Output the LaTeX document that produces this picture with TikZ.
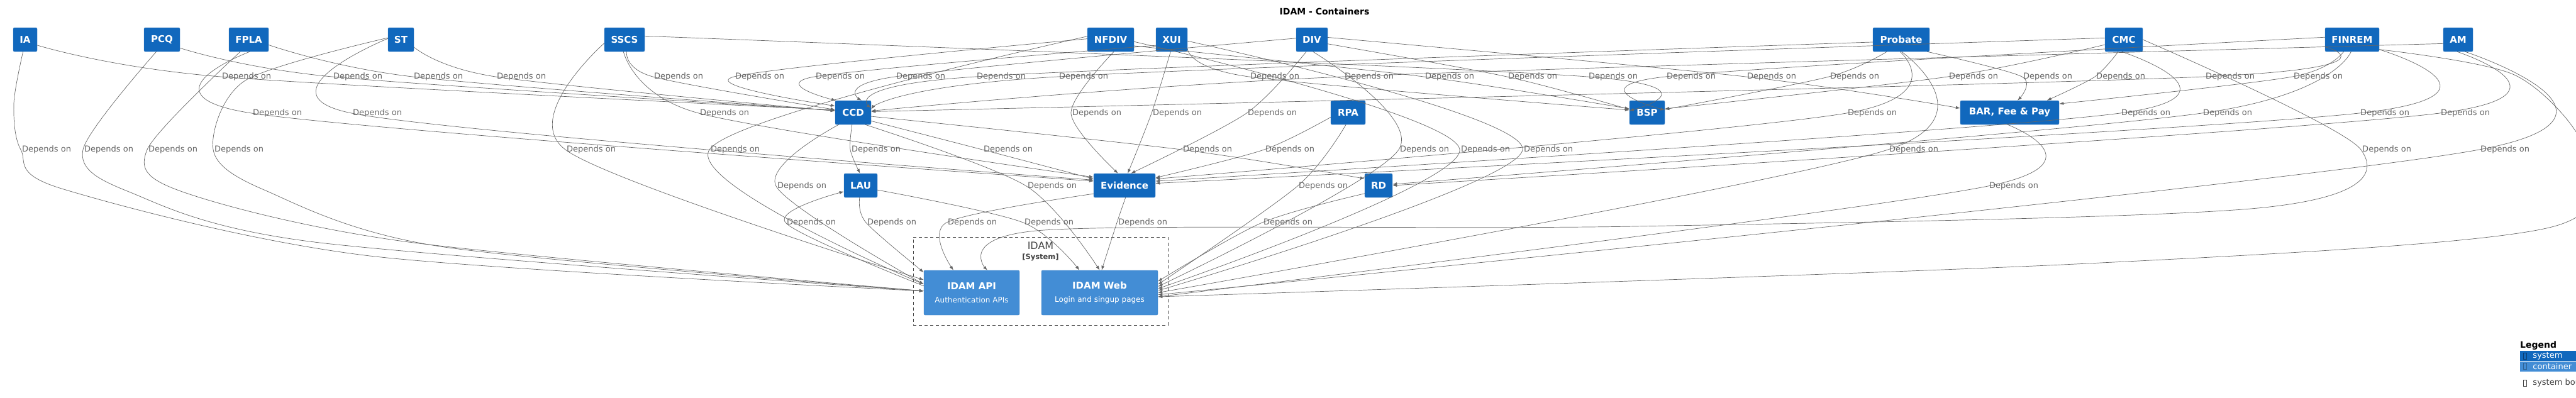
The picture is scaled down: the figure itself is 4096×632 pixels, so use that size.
\documentclass[tikz,border=0pt]{standalone}
\usepackage{fontspec}
\setmainfont{DejaVu Sans}
\usetikzlibrary{arrows.meta,positioning}

\definecolor{sysblue}{HTML}{1168BD}
\definecolor{contblue}{HTML}{438DD5}
\definecolor{c4line}{HTML}{3C7FC0}
\definecolor{depgray}{HTML}{666666}
\definecolor{bndgray}{HTML}{444444}

\begin{document}
\begin{tikzpicture}[
    x=1pt, y=-1pt,
    sys/.style={draw=c4line, fill=sysblue, rounded corners=2pt, text=white,
                font=\fontsize{15}{18}\selectfont\bfseries, minimum height=38pt, inner sep=0pt},
    cont/.style={draw=c4line, fill=contblue, rounded corners=2pt, text=white, align=center,
                 minimum height=71pt, inner sep=0pt},
    dep/.style={font=\fontsize{13}{15}\selectfont, text=depgray, anchor=west, inner sep=2pt},
    arr/.style={draw=depgray, line width=0.7pt, -{Latex[length=7pt,width=5pt]}},
    legrow/.style={anchor=north west, minimum width=100pt, minimum height=16pt, inner sep=0pt},
    legtxt/.style={anchor=west, inner sep=0pt, font=\fontsize{13}{15}\selectfont},
    tofu/.style={draw, line width=0.5pt, minimum width=5pt, minimum height=10pt, inner sep=0pt}
]
\useasboundingbox (0,0) rectangle (4096,632);

\node[font=\fontsize{14}{17}\selectfont\bfseries] (title) at (2106,18) {IDAM - Containers};

% systems, top row
\node[sys, minimum width=38pt] (IA) at (40,63) {IA};
\node[sys, minimum width=57pt] (PCQ) at (257.5,63) {PCQ};
\node[sys, minimum width=63pt] (FPLA) at (395.5,63) {FPLA};
\node[sys, minimum width=41pt] (ST) at (637.5,63) {ST};
\node[sys, minimum width=64pt] (SSCS) at (993,63) {SSCS};
\node[sys, minimum width=74pt] (NFDIV) at (1766,63) {NFDIV};
\node[sys, minimum width=50pt] (XUI) at (1863,63) {XUI};
\node[sys, minimum width=50pt] (DIV) at (2086,63) {DIV};
\node[sys, minimum width=90pt] (Probate) at (3023,63) {Probate};
\node[sys, minimum width=60pt] (CMC) at (3377,63) {CMC};
\node[sys, minimum width=86pt] (FINREM) at (3740,63) {FINREM};
\node[sys, minimum width=47pt] (AM) at (3908.5,63) {AM};

% systems, middle rows
\node[sys, minimum width=57pt] (CCD) at (1356.5,179) {CCD};
\node[sys, minimum width=55pt] (RPA) at (2143.5,179) {RPA};
\node[sys, minimum width=56pt] (BSP) at (2619,179) {BSP};
\node[sys, minimum width=157pt] (BAR) at (3195.5,179) {BAR, Fee \& Pay};
\node[sys, minimum width=53pt] (LAU) at (1368.5,295) {LAU};
\node[sys, minimum width=98pt] (Evidence) at (1788,295) {Evidence};
\node[sys, minimum width=44pt] (RD) at (2192,295) {RD};

% IDAM boundary and containers
\node[draw=bndgray, line width=0.8pt, dash pattern=on 5pt off 4pt, minimum width=405pt,
      minimum height=140pt, inner sep=0pt] (idam) at (1654.5,447) {};
\node[text=bndgray, font=\fontsize{16}{18}\selectfont, below=5pt of idam.north] (idamname) {IDAM};
\node[text=bndgray, font=\fontsize{11.5}{13}\selectfont\bfseries, below=0pt of idamname] (idamtype) {[System]};
\node[cont, minimum width=152pt] (API) at (1545,465.5)
  {{\fontsize{15}{18}\selectfont\bfseries IDAM API}\\[9pt]{\fontsize{12}{14}\selectfont Authentication APIs}};
\node[cont, minimum width=185pt] (Web) at (1748.5,465.5)
  {{\fontsize{15}{18}\selectfont\bfseries IDAM Web}\\[9pt]{\fontsize{12}{14}\selectfont Login and singup pages}};

% top row -> CCD, BSP, BAR
\node[dep] (l1a) at (351,122) {Depends on};
\draw[arr] plot[smooth] coordinates {(IA.-25) (l1a.west) (CCD.172)};
\node[dep] (l1b) at (528,122) {Depends on};
\draw[arr] plot[smooth] coordinates {(PCQ.-25) (l1b.west) (CCD.173)};
\node[dep] (l1c) at (656,122) {Depends on};
\draw[arr] plot[smooth] coordinates {(FPLA.-15) (l1c.west) (CCD.174)};
\node[dep] (l1d) at (788,122) {Depends on};
\draw[arr] plot[smooth] coordinates {(ST.-30) (l1d.west) (CCD.175)};
\node[dep] (l1e) at (1038,122) {Depends on};
\draw[arr] plot[smooth] coordinates {(SSCS.-80) (l1e.west) (CCD.171)};
\node[dep] (l1f) at (1167,122) {Depends on};
\draw[arr] plot[smooth] coordinates {(NFDIV.178) (l1f.west) (CCD.160)};
\node[dep] (l1g) at (1295,122) {Depends on};
\draw[arr] plot[smooth] coordinates {(XUI.-160) (l1g.west) (CCD.145)};
\node[dep] (l1h) at (1423,122) {Depends on};
\draw[arr] plot[smooth] coordinates {(DIV.175) (l1h.west) (CCD.55)};
\node[dep] (l1i) at (1551,122) {Depends on};
\draw[arr] plot[smooth] coordinates {(Probate.-175) (l1i.west) (CCD.15)};
\node[dep] (l1j) at (1682,122) {Depends on};
\draw[arr] plot[smooth] coordinates {(CMC.175) (l1j.west) (CCD.10)};
\node[dep] (l1k) at (1986,122) {Depends on};
\draw[arr] plot[smooth] coordinates {(XUI.-30) (l1k.west) (BSP.172)};
\node[dep] (l1l) at (2136,122) {Depends on};
\draw[arr] plot[smooth] coordinates {(AM.-165) (l1l.west) (CCD.5)};
\node[dep] (l1m) at (2264,122) {Depends on};
\draw[arr] plot[smooth] coordinates {(NFDIV.-15) (l1m.west) (BSP.168)};
\node[dep] (l1n) at (2396,122) {Depends on};
\draw[arr] plot[smooth] coordinates {(DIV.-15) (l1n.west) (BSP.170)};
\node[dep] (l1o) at (2524,122) {Depends on};
\draw[arr] plot[smooth] coordinates {(SSCS.10) (l1o.west) (BSP.174)};
\node[dep] (l1p) at (2648,122) {Depends on};
\draw[arr] plot[smooth] coordinates {(FINREM.175) (l1p.west) (BSP.8)};
\node[dep] (l1q) at (2776,122) {Depends on};
\draw[arr] plot[smooth] coordinates {(DIV.8) (l1q.west) (BAR.175)};
\node[dep] (l1r) at (2908,122) {Depends on};
\draw[arr] plot[smooth] coordinates {(Probate.-140) (l1r.west) (BSP.10)};
\node[dep] (l1s) at (3097,122) {Depends on};
\draw[arr] plot[smooth] coordinates {(CMC.-165) (l1s.west) (BSP.12)};
\node[dep] (l1t) at (3215,122) {Depends on};
\draw[arr] plot[smooth] coordinates {(Probate.-25) (l1t.west) (BAR.57)};
\node[dep] (l1u) at (3331,122) {Depends on};
\draw[arr] plot[smooth] coordinates {(CMC.-115) (l1u.west) (BAR.18)};
\node[dep] (l1v) at (3505,122) {Depends on};
\draw[arr] plot[smooth] coordinates {(FINREM.-165) (l1v.west) (CCD.3)};
\node[dep] (l1w) at (3645,122) {Depends on};
\draw[arr] plot[smooth] coordinates {(FINREM.-125) (l1w.west) (BAR.10)};

% top row -> LAU, Evidence, RD
\node[dep] (l2a) at (400,180) {Depends on};
\draw[arr] plot[smooth] coordinates {(FPLA.-85) (l2a.west) (Evidence.172)};
\node[dep] (l2b) at (559,180) {Depends on};
\draw[arr] plot[smooth] coordinates {(ST.175) (l2b.west) (Evidence.170)};
\node[dep] (l2c) at (1111,180) {Depends on};
\draw[arr] plot[smooth] coordinates {(SSCS.-95) (l2c.west) (Evidence.165)};
\node[dep] (l2d) at (1703,180) {Depends on};
\draw[arr] plot[smooth] coordinates {(NFDIV.-75) (l2d.west) (Evidence.118)};
\node[dep] (l2e) at (1831,180) {Depends on};
\draw[arr] plot[smooth] coordinates {(XUI.-95) (l2e.west) (Evidence.75)};
\node[dep] (l2f) at (1982,180) {Depends on};
\draw[arr] plot[smooth] coordinates {(DIV.-115) (l2f.west) (Evidence.62)};
\node[dep] (l2g) at (2936,180) {Depends on};
\draw[arr] plot[smooth] coordinates {(Probate.-95) (l2g.west) (Evidence.12)};
\node[dep] (l2h) at (3371,180) {Depends on};
\draw[arr] plot[smooth] coordinates {(CMC.-100) (l2h.west) (Evidence.8)};
\node[dep] (l2i) at (3501,180) {Depends on};
\draw[arr] plot[smooth] coordinates {(FINREM.-95) (l2i.west) (RD.5)};
\node[dep] (l2j) at (3751,180) {Depends on};
\draw[arr] plot[smooth] coordinates {(FINREM.-20) (l2j.west) (Evidence.4)};
\node[dep] (l2k) at (3879,180) {Depends on};
\draw[arr] plot[smooth] coordinates {(AM.-95) (l2k.west) (RD.0)};

% long dependencies and CCD/RPA -> second row
\coordinate (iaA) at (22,165);
\coordinate (iaB) at (98,300);
\coordinate (iaC) at (588,407);
\node[dep] (l3a) at (33,238) {Depends on};
\draw[arr] plot[smooth] coordinates {(IA.-100) (iaA) (l3a.west) (iaB) (iaC) (API.178)};
\coordinate (pcqA) at (205,305);
\coordinate (pcqB) at (500,385);
\node[dep] (l3b) at (132,238) {Depends on};
\draw[arr] plot[smooth] coordinates {(PCQ.-115) (l3b.west) (pcqA) (pcqB) (API.178)};
\coordinate (fplaA) at (290,305);
\coordinate (fplaB) at (650,385);
\node[dep] (l3c) at (234,238) {Depends on};
\draw[arr] plot[smooth] coordinates {(FPLA.-125) (l3c.west) (fplaA) (fplaB) (API.178)};
\coordinate (stA) at (390,128);
\coordinate (stB) at (420,302);
\coordinate (stC) at (700,392);
\node[dep] (l3d) at (339,238) {Depends on};
\draw[arr] plot[smooth] coordinates {(ST.172) (stA) (l3d.west) (stB) (stC) (API.178)};
\node[dep] (l3e) at (899,238) {Depends on};
\draw[arr] plot[smooth] coordinates {(SSCS.-170) (l3e.west) (API.165)};
\node[dep] (l3f) at (1128,238) {Depends on};
\draw[arr] plot[smooth] coordinates {(NFDIV.172) (l3f.west) (API.170)};
\node[dep] (l3g) at (1352,238) {Depends on};
\draw[arr] plot[smooth] coordinates {(CCD.-95) (l3g.west) (LAU.93)};
\node[dep] (l3h) at (1562,238) {Depends on};
\draw[arr] plot[smooth] coordinates {(CCD.-25) (l3h.west) (Evidence.168)};
\node[dep] (l3i) at (1879,238) {Depends on};
\draw[arr] plot[smooth] coordinates {(CCD.-12) (l3i.west) (RD.154)};
\node[dep] (l3j) at (2010,238) {Depends on};
\draw[arr] plot[smooth] coordinates {(RPA.-165) (l3j.west) (Evidence.14)};
\node[dep] (l3k) at (2224,238) {Depends on};
\draw[arr] plot[smooth] coordinates {(DIV.-85) (l3k.west) (Web.6)};
\node[dep] (l3l) at (2321,238) {Depends on};
\draw[arr] plot[smooth] coordinates {(NFDIV.-5) (l3l.west) (Web.4)};
\node[dep] (l3m) at (2421,238) {Depends on};
\draw[arr] plot[smooth] coordinates {(XUI.-5) (l3m.west) (Web.2)};
\node[dep] (l3n) at (3002,238) {Depends on};
\draw[arr] plot[smooth] coordinates {(Probate.-88) (l3n.west) (Web.0)};
\node[dep] (l3o) at (3754,238) {Depends on};
\coordinate (cmcA) at (3600,330);
\coordinate (cmcB) at (2600,360);
\coordinate (cmcC) at (1660,366);
\draw[arr] plot[smooth] coordinates {(CMC.0) (l3o.west) (cmcA) (cmcB) (cmcC) (API.55)};
\node[dep] (l3p) at (3942,238) {Depends on};
\draw[arr] plot[smooth] coordinates {(AM.-60) (l3p.west) (Web.-2)};

% middle row -> IDAM
\node[dep] (l4a) at (1234,296) {Depends on};
\draw[arr] plot[smooth] coordinates {(CCD.-140) (l4a.west) (API.170)};
\node[dep] (l4b) at (1632,296) {Depends on};
\draw[arr] plot[smooth] coordinates {(CCD.-45) (l4b.west) (Web.90)};
\node[dep] (l4c) at (2063,296) {Depends on};
\draw[arr] plot[smooth] coordinates {(RPA.-100) (l4c.west) (Web.8)};
\node[dep] (l4d) at (3161,296) {Depends on};
\draw[arr] plot[smooth] coordinates {(BAR.-100) (l4d.west) (Web.-4)};

% second row -> IDAM
\node[dep] (l5a) at (1249,354) {Depends on};
\draw[arr] plot[smooth] coordinates {(API.172) (l5a.west) (LAU.-160)};
\node[dep] (l5b) at (1377,354) {Depends on};
\draw[arr] plot[smooth] coordinates {(LAU.-95) (l5b.west) (API.157)};
\node[dep] (l5c) at (1505,354) {Depends on};
\draw[arr] plot[smooth] coordinates {(Evidence.-165) (l5c.west) (API.129)};
\node[dep] (l5d) at (1627,354) {Depends on};
\draw[arr] plot[smooth] coordinates {(LAU.-15) (l5d.west) (Web.132)};
\node[dep] (l5e) at (1776,354) {Depends on};
\draw[arr] plot[smooth] coordinates {(Evidence.-85) (l5e.west) (Web.85)};
\node[dep] (l5f) at (2007,354) {Depends on};
\draw[arr] plot[smooth] coordinates {(RD.-150) (l5f.west) (Web.11)};

% FINREM -> IDAM Web, routed off the right edge
\coordinate (finA) at (4000,120);
\coordinate (finB) at (4110,240);
\coordinate (finC) at (4049,363);
\coordinate (finD) at (3300,420);
\draw[arr] plot[smooth] coordinates {(FINREM.-20) (finA) (finB) (finC) (finD) (Web.-4)};

% legend
\node[font=\fontsize{14}{17}\selectfont\bfseries, anchor=west, inner sep=0pt] (legend) at (4007,550) {Legend};
\node[legrow, fill=sysblue] (legsys) at (4007,558) {};
\node[legrow, fill=contblue, below=0pt of legsys.south west, anchor=north west] (legcont) {};
\node[tofu, draw=sysblue!60!black] (tofusys) at (4014.5,566) {};
\node[legtxt, text=white, right=10pt of tofusys] {system};
\node[tofu, draw=contblue!70!black, below=6pt of tofusys] (tofucont) {};
\node[legtxt, text=white, right=10pt of tofucont] {container};
\node[tofu, draw=bndgray, below=16pt of tofucont] (tofubnd) {};
\node[legtxt, text=bndgray, right=10pt of tofubnd] {system boundary};

\end{tikzpicture}
\end{document}
